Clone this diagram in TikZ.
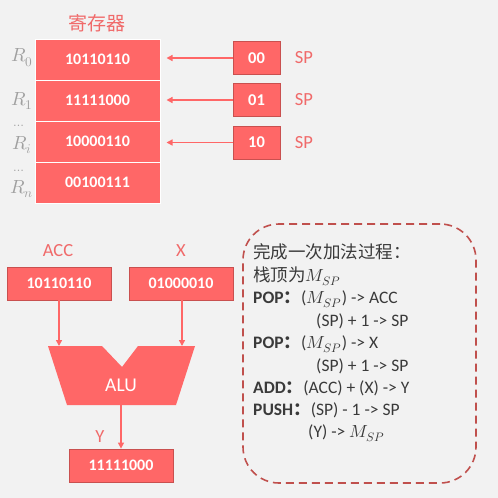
\documentclass[tikz,border=0pt]{standalone}
\usepackage{fontspec}
\usepackage{unicode-math}
\setmainfont{Carlito}
\setmathfont{Latin Modern Math}
\newfontfamily\cjk{Noto Sans CJK SC}
\usetikzlibrary{arrows.meta}
\definecolor{bg}{HTML}{F2F2F2}
\definecolor{boxred}{HTML}{FF6767}
\definecolor{edgered}{HTML}{C9504F}
\definecolor{txtred}{HTML}{F06A6A}
\definecolor{lblgray}{HTML}{A0A0A0}
\definecolor{dark}{HTML}{3A3A3A}
\definecolor{dashred}{HTML}{C0504D}
\tikzset{
  x=1pt, y=-1pt,
  reg/.style={fill=boxred, draw=white, line width=1pt, minimum width=125pt, minimum height=41pt, inner sep=0pt, text=white, font=\fontsize{16}{18}\selectfont\bfseries},
  sbox/.style={fill=boxred, draw=edgered, line width=0.8pt, minimum width=47pt, minimum height=33pt, inner sep=0pt, text=white, font=\fontsize{16.5}{18}\selectfont\bfseries},
  vbox/.style={fill=boxred, draw=edgered, line width=0.8pt, minimum width=104pt, minimum height=33pt, inner sep=0pt, text=white, font=\fontsize{16}{18}\selectfont\bfseries},
  redlbl/.style={text=txtred, font=\fontsize{18.5}{20}\selectfont, inner sep=0pt},
  rlbl/.style={text=lblgray, font=\fontsize{19}{21}\selectfont, inner sep=0pt},
  arr/.style={draw=boxred, line width=1.3pt, -{Triangle[length=6pt,width=6pt]}},
  txt/.style={anchor=base west, text=dark, inner sep=0pt, font=\fontsize{17.5}{20}\selectfont},
}
\begin{document}
\begin{tikzpicture}
\fill[bg] (0,0) rectangle (498,498);
\useasboundingbox (0,0) rectangle (498,498);

% register file
\node[redlbl, font=\fontsize{19}{21}\selectfont\cjk] (title) at (97,23) {寄存器};
\node[reg] (r0) at (97.5,59.5) {10110110};
\node[reg] (r1) at (97.5,100.5) {11111000};
\node[reg] (ri) at (97.5,141.5) {10000110};
\node[reg] (rn) at (97.5,182.5) {00100111};

\node[rlbl] (l0) at (22,58) {$R_0$};
\node[rlbl] (l1) at (22,101) {$R_1$};
\node[rlbl, font=\fontsize{13}{14}\selectfont] (d1) at (20,126) {$\dots$};
\node[rlbl] (li) at (22,145) {$R_i$};
\node[rlbl, font=\fontsize{13}{14}\selectfont] (d2) at (20,171) {$\dots$};
\node[rlbl] (ln) at (22,189) {$R_n$};

% stack pointers
\node[sbox] (s0) at (256.5,58) {00};
\node[sbox] (s1) at (256.5,100) {01};
\node[sbox] (s2) at (256.5,142.5) {10};
\node[redlbl] (sp0) at (304,58) {SP};
\node[redlbl] (sp1) at (304,100) {SP};
\node[redlbl] (sp2) at (304,142.5) {SP};

\draw[arr, shorten >=6pt] (s0.west) -- (s0.west -| r0.east);
\draw[arr, shorten >=6pt] (s1.west) -- (s1.west -| r1.east);
\draw[arr, shorten >=6pt] (s2.west) -- (s2.west -| ri.east);

% ALU part
\node[redlbl] (acclbl) at (58,251) {ACC};
\node[redlbl] (xlbl) at (181,251) {X};
\node[vbox] (acc) at (59,283.5) {10110110};
\node[vbox] (xr) at (181,283.5) {01000010};

\fill[boxred] (48,346) -- (102,346) -- (122,367) -- (138,346) -- (195,346) -- (176,405) -- (67,405) -- cycle;
\node[text=white, font=\fontsize{19.5}{21}\selectfont, inner sep=0pt] (alu) at (121,385) {ALU};
\coordinate (aluA) at (59,346);
\coordinate (aluX) at (182,346);
\coordinate (aluO) at (121,405);

\draw[arr] (acc.south) -- (aluA);
\draw[arr] (xr.south -| aluX) -- (aluX);

\node[redlbl] (ylbl) at (100,437) {Y};
\node[vbox] (res) at (121,465.5) {11111000};
\draw[arr] (aluO) -- (aluO |- res.north);

% explanation box
\node[draw=dashred, dashed, dash pattern=on 8pt off 5pt, line width=1.6pt, rounded corners=36pt, minimum width=233pt, minimum height=259pt] (note) at (359.5,353.5) {};

\node[txt] (t1) at (253,258) {\cjk 完成一次加法过程：};
\node[txt] (t2) at (253,281) {{\cjk 栈顶为}$M_{SP}$};
\node[txt] (t3) at (253,303) {\textbf{POP}{\cjk\bfseries ：}($M_{SP}$) -> ACC};
\node[txt] (t4) at (316,326) {(SP) + 1 -> SP};
\node[txt] (t5) at (253,348) {\textbf{POP}{\cjk\bfseries ：}($M_{SP}$) -> X};
\node[txt] (t6) at (316,371) {(SP) + 1 -> SP};
\node[txt] (t7) at (253,393) {\textbf{ADD}{\cjk\bfseries ：}(ACC) + (X) -> Y};
\node[txt] (t8) at (253,415) {\textbf{PUSH}{\cjk\bfseries ：}(SP) - 1 -> SP};
\node[txt] (t9) at (308,437) {(Y) -> $M_{SP}$};
\end{tikzpicture}
\end{document}
